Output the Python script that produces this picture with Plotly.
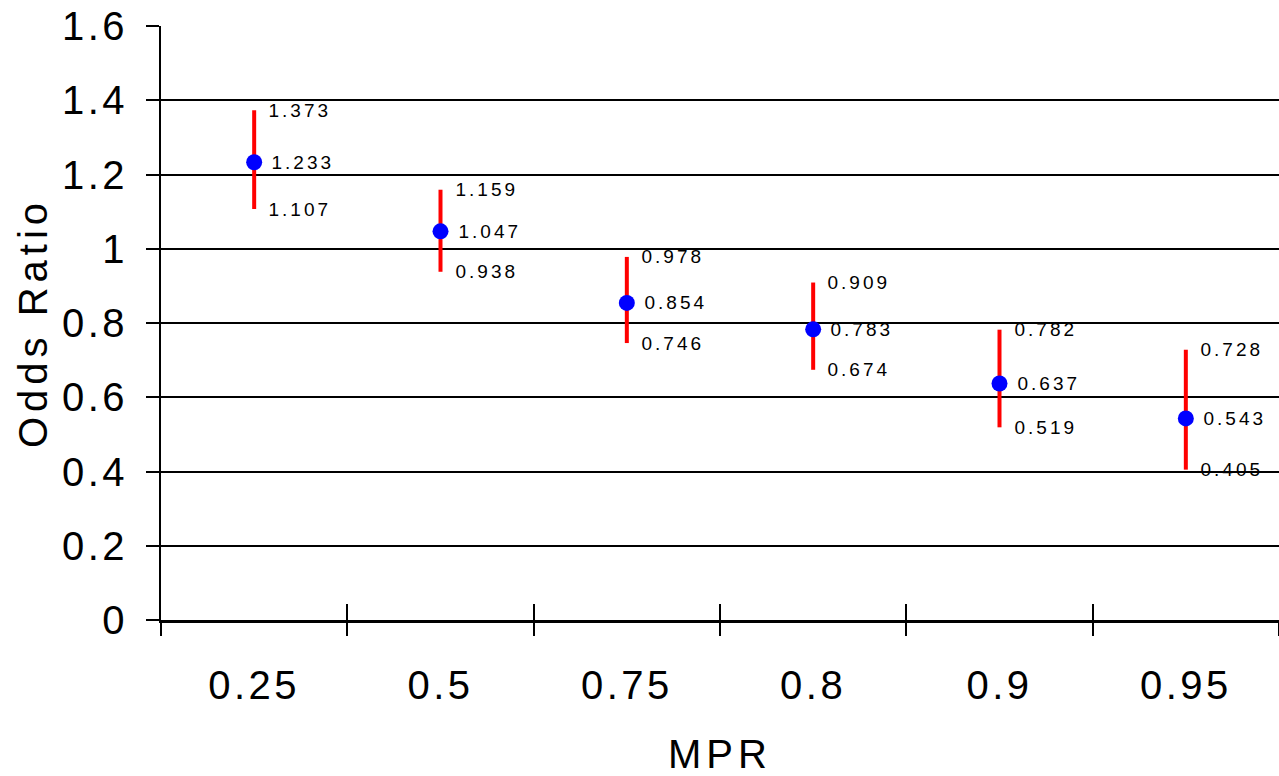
import plotly.graph_objects as go

categories = ["0.25", "0.5", "0.75", "0.8", "0.9", "0.95"]
odds_ratio = [1.233, 1.047, 0.854, 0.783, 0.637, 0.543]
upper_ci = [1.373, 1.159, 0.978, 0.909, 0.782, 0.728]
lower_ci = [1.107, 0.938, 0.746, 0.674, 0.519, 0.405]
y_ticks = [0, 0.2, 0.4, 0.6, 0.8, 1.0, 1.2, 1.4, 1.6]

FONT = "Liberation Sans, Arial, sans-serif"

fig = go.Figure()
fig.add_trace(go.Scatter(
    x=categories, y=odds_ratio, mode="markers",
    marker=dict(color="#0000FF", size=16),
    error_y=dict(type="data", symmetric=False,
                 array=[u - o for u, o in zip(upper_ci, odds_ratio)],
                 arrayminus=[o - l for o, l in zip(odds_ratio, lower_ci)],
                 color="#FF0000", thickness=4, width=0),
    showlegend=False, hoverinfo="skip",
))
# invisible trace for the inner tick overlay axes
fig.add_trace(go.Scatter(x=[0], y=[0], xaxis="x2", yaxis="y2", mode="markers",
                         marker=dict(opacity=0), showlegend=False, hoverinfo="skip"))

annotations = []
for i, (o, u, l) in enumerate(zip(odds_ratio, upper_ci, lower_ci)):
    for val, xs in ((u, 20), (o, 23), (l, 20)):
        annotations.append(dict(
            x=i, y=val, xref="x", yref="y", text=f"{val:.3f}", showarrow=False,
            xanchor="left", yanchor="middle", xshift=xs,
            font=dict(family=FONT, size=19, color="black")))

fig.update_layout(
    width=1279, height=776,
    margin=dict(l=161, r=0, t=26, b=156),
    paper_bgcolor="white", plot_bgcolor="white",
    font=dict(family=FONT, color="black"),
    annotations=annotations,
    xaxis=dict(
        type="category", categoryorder="array", categoryarray=categories,
        range=[-0.5, 5.5], tickson="boundaries", ticks="outside", ticklen=13,
        tickwidth=1.5, tickcolor="black",
        showline=True, linecolor="black", linewidth=2.5, showgrid=False,
        tickfont=dict(size=40), ticklabelstandoff=28,
        title=dict(text="MPR", font=dict(size=40), standoff=35),
    ),
    xaxis2=dict(
        overlaying="x", anchor="y", range=[-0.5, 5.5], side="bottom",
        tickvals=[0.5, 1.5, 2.5, 3.5, 4.5], ticks="inside", ticklen=16,
        tickwidth=1.5, tickcolor="black", showticklabels=False,
        showgrid=False, zeroline=False, showline=False,
    ),
    yaxis=dict(
        range=[0, 1.6], tickvals=y_ticks, ticks="outside", ticklen=13,
        tickwidth=1.5, tickcolor="black",
        showline=True, linecolor="black", linewidth=2,
        showgrid=True, gridcolor="black", gridwidth=1.5, zeroline=False,
        tickfont=dict(size=40), ticklabelstandoff=10,
        title=dict(text="Odds Ratio", font=dict(size=40), standoff=12),
    ),
    yaxis2=dict(
        overlaying="y", anchor="x", range=[0, 1.6], side="left",
        tickvals=y_ticks, ticks="inside", ticklen=12,
        tickwidth=2, tickcolor="black", showticklabels=False,
        showgrid=False, zeroline=False, showline=False,
    ),
)

css = """
var s = document.createElement('style');
s.innerHTML = 'html, body {margin:0; padding:0; overflow:hidden;} .xtick text, .ytick text {letter-spacing: 3.5px;} .annotation-text {letter-spacing: 3px;} .g-xtitle text, .g-ytitle text {letter-spacing: 5px;}';
document.head.appendChild(s);
"""
fig.write_html("out.html", post_script=css, config={"displayModeBar": False})
